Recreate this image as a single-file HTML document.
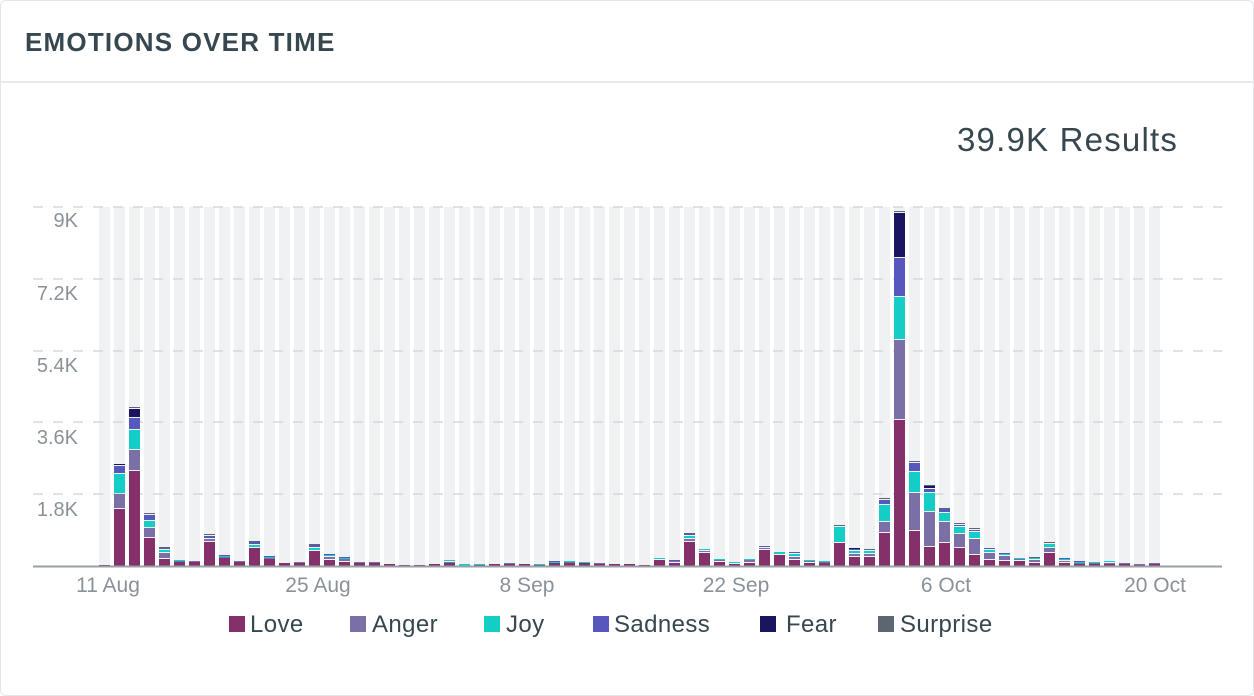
<!DOCTYPE html>
<html><head><meta charset="utf-8"><style>
html,body{margin:0;padding:0;background:#fff;}
body{width:1254px;height:696px;overflow:hidden;position:relative;font-family:"Liberation Sans",sans-serif;}
.card{position:absolute;left:0;top:0;width:1252px;height:694px;border:1px solid #e3e6ea;border-radius:6px;}
.title{position:absolute;left:25px;top:27px;font-size:26px;font-weight:bold;color:#37474f;letter-spacing:1.2px;}
.sep{position:absolute;left:0;top:81px;width:1254px;height:2px;background:#e6eaee;}
.res{position:absolute;left:957px;top:121px;font-size:33px;color:#37474f;letter-spacing:1.2px;}
</style></head><body>
<div class="card"></div>
<div class="title">EMOTIONS OVER TIME</div>
<div class="sep"></div>
<div class="res">39.9K Results</div>
<svg id="c" width="1254" height="696" style="position:absolute;left:0;top:0" xmlns="http://www.w3.org/2000/svg">
<g id="bg"></g>
<g id="grid" stroke="#d5d8dc" stroke-width="1.5" stroke-dasharray="10,10">
<line x1="33" x2="1222" y1="207" y2="207"/>
<line x1="33" x2="1222" y1="279" y2="279"/>
<line x1="33" x2="1222" y1="351" y2="351"/>
<line x1="33" x2="1222" y1="422" y2="422"/>
<line x1="33" x2="1222" y1="494" y2="494"/>
</g>
<g id="bars"></g>
<line x1="33" x2="1222" y1="566.5" y2="566.5" stroke="#9aa1a6" stroke-width="2"/>
<g font-size="20" fill="#8a9299" text-anchor="end" font-family="Liberation Sans, sans-serif">
<text x="78" y="227">9K</text>
<text x="78" y="300">7.2K</text>
<text x="78" y="372">5.4K</text>
<text x="78" y="444">3.6K</text>
<text x="78" y="516">1.8K</text>
</g>
<g font-size="21" fill="#8a9299" text-anchor="middle" font-family="Liberation Sans, sans-serif">
<text x="108" y="592">11 Aug</text>
<text x="318" y="592">25 Aug</text>
<text x="527" y="592">8 Sep</text>
<text x="736" y="592">22 Sep</text>
<text x="946" y="592">6 Oct</text>
<text x="1155" y="592">20 Oct</text>
</g>
<g font-size="24" fill="#37474f" font-family="Liberation Sans, sans-serif" letter-spacing="0.4">
<rect x="229" y="616" width="16" height="16" fill="#84306b"/><text x="250" y="632">Love</text>
<rect x="350" y="616" width="16" height="16" fill="#7a6fa6"/><text x="372" y="632">Anger</text>
<rect x="484" y="616" width="16" height="16" fill="#14cdc6"/><text x="506" y="632">Joy</text>
<rect x="593" y="616" width="16" height="16" fill="#5658bd"/><text x="614" y="632">Sadness</text>
<rect x="760" y="616" width="16" height="16" fill="#1b1461"/><text x="786" y="632">Fear</text>
<rect x="878" y="616" width="16" height="16" fill="#5c6670"/><text x="900" y="632">Surprise</text>
</g>
</svg>
<script>
var C=["#84306b","#7a6fa6","#14cdc6","#5658bd","#1b1461","#5c6670"];
var D={0:[1],1:[57,15,20,8,2],2:[95,21,20,12,9,2],3:[28,10,7,6,0,2],4:[7,6,3,2,0,1],5:[4,1,1],6:[4,1],
7:[24,3,0,3,0,2],8:[8,1,1,1],9:[4,1],10:[18,0,3,3,0,1],11:[7,1,1,1],12:[3],13:[3,1],14:[15,0,3,3,0,1],
15:[6,3,2,1],16:[4,3,1,1],17:[3,1],18:[3,1],19:[2],20:[1],21:[1],22:[2],23:[3,1,2],24:[0,0,2],25:[1,0,1],
26:[2],27:[2,1],28:[2],29:[1,0,1],30:[3,0,1,1],31:[3,1,1],32:[3,0,1],33:[2,1],34:[2],35:[2],36:[1],
37:[6,0,2],38:[3,2,0,1],39:[24,3,3,2,0,1],40:[13,2,2],41:[4,2,1],42:[2,0,2],43:[3,3,1],44:[16,2,0,2],
45:[11,0,3],46:[6,3,3,2],47:[3,2,1],48:[3,1,1],49:[23,0,16,0,0,2],50:[9,3,3,2,1],51:[9,3,3,0,0,2],
52:[33,11,17,5,0,2],53:[146,80,43,39,45,2],54:[35,38,21,9,0,2],55:[19,35,19,4,3,1],56:[23,21,9,4,0,1],
57:[18,14,7,2,0,2],58:[11,16,7,2,0,2],59:[6,7,3,2],60:[5,5,2,1],61:[5,2,1],62:[3,3,2,0,0,1],
63:[13,5,4,0,0,2],64:[3,2,2,1],65:[2,1,1,1],66:[2,1,1],67:[2,1,2],68:[2,1],69:[1,1],70:[2,1]};
var bg="",b="";
for(var i=0;i<71;i++){var x=99+15*i;
bg+='<rect x="'+x+'" y="207" width="11" height="359" fill="#f0f1f3"/>';
var s=D[i]||[],y=566;
for(var k=0;k<s.length;k++){var h=s[k];if(!h)continue;
var gap=(y<566)?1:0;
b+='<rect x="'+x+'" y="'+(y-h)+'" width="11" height="'+Math.max(h-gap,1)+'" fill="'+C[k]+'"/>';y-=h;}}
document.getElementById("bg").innerHTML=bg;
document.getElementById("bars").innerHTML=b;
</script>
</body></html>
